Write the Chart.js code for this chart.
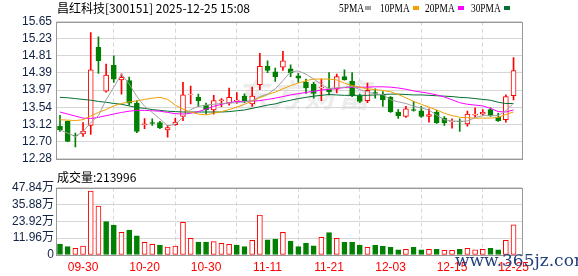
<!DOCTYPE html>
<html>
<head>
<meta charset="utf-8">
<script src="https://cdn.jsdelivr.net/npm/chart.js@4.4.0/dist/chart.umd.min.js"></script>
<style>
  body { margin: 0; background: #fff; width: 578px; height: 276px; overflow: hidden; position: relative; }
  canvas { position: absolute; left: 0; }
  #kc { top: 0; }
  #vc { top: 170px; }
  .txt { position: absolute; white-space: nowrap; font: 12px "Noto Sans CJK SC", "Liberation Sans", sans-serif; color: #000; line-height: 14px; }
  .lg { position: absolute; top: 2px; white-space: nowrap; font: 12px "Liberation Serif", serif; color: #000; line-height: 12px;
        transform: scaleX(0.78); transform-origin: left top; }
  .sq { position: absolute; top: 6px; width: 6px; height: 4px; }
  .wm { position: absolute; left: 236px; top: 70px; font: italic bold 32px "Noto Sans CJK SC", sans-serif; color: rgba(170,170,170,0.22); letter-spacing: 2px; }
  .site { position: absolute; left: 455px; top: 250px; font: 17px "DejaVu Serif", serif; color: #22407e; z-index: 5; }
</style>
</head>
<body>
<div class="wm">东方财富</div>
<canvas id="kc" width="578" height="170"></canvas>
<canvas id="vc" width="578" height="106"></canvas>
<div class="txt" style="left:57px;top:1px;">昌红科技[300151] 2025-12-25 15:08</div>
<div class="lg" style="left:339px;">5PMA</div><div class="sq" style="left:365px;background:#a0a0a0;"></div>
<div class="lg" style="left:380px;">10PMA</div><div class="sq" style="left:413px;background:#f0a000;"></div>
<div class="lg" style="left:425px;">20PMA</div><div class="sq" style="left:458px;background:#ff00ff;"></div>
<div class="lg" style="left:471px;">30PMA</div><div class="sq" style="left:504px;background:#006f30;"></div>
<div class="txt" style="left:57px;top:170px;">成交量:213996</div>
<div class="site">www.365jz.com</div>
<script>
// trading days shown (60 candles)
const dates = ['09-25','09-26','09-29','09-30','10-09','10-10','10-13','10-14','10-15','10-16',
  '10-17','10-20','10-21','10-22','10-23','10-24','10-27','10-28','10-29','10-30',
  '10-31','11-03','11-04','11-05','11-06','11-07','11-10','11-11','11-12','11-13',
  '11-14','11-17','11-18','11-19','11-20','11-21','11-24','11-25','11-26','11-27',
  '11-28','12-01','12-02','12-03','12-04','12-05','12-08','12-09','12-10','12-11',
  '12-12','12-15','12-16','12-17','12-18','12-19','12-22','12-23','12-24','12-25'];
const tickDates = ['09-30','10-20','10-30','11-11','11-21','12-03','12-15','12-25'];
const priceTicks = ['12.28','12.70','13.12','13.54','13.97','14.39','14.81','15.23','15.65'];
const volTicks = ['0','11.96万','23.92万','35.88万','47.84万'];

const openP = [13.08,13.20,12.86,12.89,13.10,15.02,13.94,14.58,14.22,14.20,
  13.65,13.12,13.17,13.17,12.99,13.12,13.32,13.86,13.79,13.60,
  13.48,13.71,13.65,13.70,13.82,13.63,14.10,14.55,14.42,14.53,
  14.49,14.32,14.16,14.11,14.02,14.00,13.99,14.30,14.19,13.82,
  13.71,13.91,13.85,13.79,13.43,13.32,13.49,13.46,13.32,13.43,
  13.28,13.19,13.21,13.14,13.35,13.38,13.49,13.30,13.24,13.83];
const highP = [13.35,13.21,12.91,13.17,15.38,15.28,14.61,14.81,14.37,14.29,
  13.71,13.27,13.26,13.20,13.10,13.28,14.16,14.07,13.87,13.65,
  13.84,13.76,14.02,13.91,13.88,14.04,14.87,14.69,14.51,14.92,
  14.59,14.38,14.24,14.16,14.24,14.40,14.36,14.47,14.40,13.87,
  14.14,14.00,13.93,13.81,13.49,13.57,13.69,13.57,13.51,13.47,
  13.32,13.26,13.26,13.45,13.53,13.49,13.53,13.40,13.85,14.77];
const lowP = [12.95,12.70,12.57,12.83,12.88,14.38,13.92,14.16,13.87,13.60,
  12.92,13.02,13.10,13.02,12.81,13.10,13.22,13.63,13.56,13.38,
  13.38,13.56,13.60,13.64,13.66,13.57,13.98,14.40,14.18,14.45,
  14.30,14.16,13.89,13.77,13.71,13.85,13.90,14.21,13.81,13.66,
  13.66,13.77,13.57,13.42,13.27,13.30,13.45,13.30,13.18,13.15,
  13.10,13.03,12.95,13.08,13.30,13.35,13.32,13.20,13.18,13.73];
const closeP = [12.99,12.71,12.84,12.96,14.47,14.69,14.34,14.24,14.28,13.65,
  12.95,13.14,13.15,13.04,13.05,13.18,13.85,13.87,13.71,13.48,
  13.71,13.73,13.79,13.72,13.71,13.82,14.55,14.45,14.30,14.69,
  14.40,14.26,14.02,13.89,14.04,13.93,14.30,14.22,13.83,13.69,
  13.96,13.89,13.73,13.44,13.34,13.51,13.47,13.32,13.37,13.17,
  13.16,13.20,13.19,13.38,13.38,13.43,13.34,13.22,13.81,14.45];

const ma5 = [12.99,12.91,12.83,12.95,13.17,13.34,13.73,14.04,14.36,14.12,
  13.81,13.57,13.42,13.26,13.09,13.13,13.30,13.49,13.57,13.60,
  13.62,13.64,13.65,13.66,13.68,13.71,13.81,13.87,14.00,14.20,
  14.42,14.44,14.36,14.24,14.11,14.00,14.03,14.04,14.06,13.98,
  13.93,13.87,13.86,13.73,13.68,13.64,13.57,13.53,13.48,13.35,
  13.24,13.21,13.20,13.21,13.29,13.34,13.34,13.34,13.46,13.65];
const ma10 = [13.24,13.23,13.22,13.24,13.33,13.42,13.49,13.58,13.64,13.68,
  13.70,13.74,13.77,13.79,13.74,13.60,13.50,13.43,13.38,13.36,
  13.40,13.44,13.49,13.55,13.62,13.70,13.78,13.86,13.92,14.00,
  14.08,14.14,14.20,14.24,14.24,14.24,14.22,14.14,14.08,14.04,
  14.00,13.98,13.96,13.93,13.86,13.78,13.69,13.62,13.55,13.48,
  13.40,13.34,13.30,13.29,13.28,13.28,13.28,13.30,13.37,13.43];
const ma20 = [13.43,13.38,13.33,13.28,13.27,13.30,13.34,13.38,13.42,13.45,
  13.47,13.47,13.46,13.45,13.42,13.39,13.38,13.40,13.44,13.50,
  13.57,13.62,13.66,13.69,13.69,13.70,13.71,13.74,13.77,13.81,
  13.85,13.88,13.91,13.94,13.97,13.99,14.01,14.03,14.04,14.04,
  14.04,14.05,14.05,14.04,14.02,13.99,13.95,13.92,13.89,13.85,
  13.80,13.73,13.66,13.62,13.60,13.58,13.52,13.44,13.43,13.48];
const ma30 = [13.79,13.78,13.76,13.74,13.72,13.69,13.67,13.64,13.62,13.58,
  13.54,13.52,13.49,13.47,13.45,13.44,13.43,13.43,13.43,13.43,
  13.43,13.43,13.44,13.46,13.48,13.52,13.56,13.60,13.63,13.68,
  13.72,13.76,13.79,13.82,13.84,13.86,13.85,13.84,13.84,13.84,
  13.84,13.85,13.86,13.87,13.87,13.86,13.85,13.85,13.84,13.83,
  13.82,13.81,13.79,13.78,13.76,13.74,13.72,13.67,13.64,13.64];

// volume in 万 shares, and whether the day closed up (red) or down (green)
const volume = [7.8,5.9,4.7,6.4,45.5,34.8,23.7,21.3,16.1,17.8,
  13.7,9.0,7.6,7.1,5.7,6.4,23.2,11.8,9.2,9.2,
  9.5,8.3,7.6,7.1,5.9,10.4,28.4,10.7,11.4,16.1,
  9.9,5.9,8.3,6.6,12.6,15.9,11.8,9.0,9.0,7.1,
  5.4,7.1,6.4,5.4,3.6,4.0,5.4,3.6,4.0,4.0,
  3.3,3.3,4.0,4.7,3.6,4.0,4.7,3.6,10.4,21.40];
const volUp = [0,0,1,1,1,1,0,0,1,0,
  0,1,1,0,1,1,1,1,0,0,
  1,1,1,0,0,1,1,0,0,1,
  0,0,0,0,1,0,1,0,0,0,
  1,0,0,0,0,1,0,0,1,0,
  1,1,0,1,1,1,0,0,1,1];

const RED = '#ff0000', GREEN = '#008000';
const GRID = '#d6d6d6', FRAME = '#999999', TICK = '#112244';
const idx = dates.map((_, i) => i);
const up = idx.map(i => closeP[i] >= openP[i]);

const frame = {
  id: 'frame',
  afterDraw(chart) {
    const { ctx, chartArea: a } = chart;
    ctx.save();
    ctx.strokeStyle = FRAME;
    ctx.lineWidth = 1;
    ctx.strokeRect(Math.round(a.left) + 0.5, Math.round(a.top) + 0.5,
      Math.round(a.right - a.left), Math.round(a.bottom - a.top));
    ctx.restore();
  }
};

const xBase = {
  type: 'linear', min: -0.52, max: 60.1, offset: false,
  afterBuildTicks: s => { s.ticks = tickDates.map(d => ({ value: dates.indexOf(d) })); },
  grid: { color: GRID, drawTicks: false },
  border: { display: false, dash: [4, 3] }
};

function maLine(data, color) {
  return {
    type: 'line', data: idx.map(i => ({ x: i, y: data[i] })),
    borderColor: color, borderWidth: 1, pointRadius: 0, tension: 0, order: -1
  };
}

new Chart(document.getElementById('kc'), {
  type: 'bar',
  data: {
    datasets: [
      maLine(ma5, '#a0a0a0'),
      maLine(ma10, '#f0a000'),
      maLine(ma20, '#ff00ff'),
      maLine(ma30, '#006f30'),
      {
        data: idx.map(i => ({ x: i, y: [openP[i], closeP[i]] })),
        backgroundColor: idx.map(i => up[i] ? '#ffffff' : GREEN),
        borderColor: idx.map(i => up[i] ? RED : GREEN),
        borderWidth: 1, borderSkipped: false, barThickness: 5, grouped: false, order: 1
      },
      {
        data: idx.map(i => ({ x: i, y: [lowP[i], highP[i]] })),
        backgroundColor: idx.map(i => up[i] ? RED : GREEN),
        barThickness: 1, grouped: false, order: 2
      }
    ]
  },
  options: {
    responsive: false, animation: false, events: [],
    layout: { padding: { left: 0, right: 56, top: 21.7, bottom: 5 } },
    plugins: { legend: { display: false }, tooltip: { enabled: false } },
    scales: {
      x: { ...xBase, ticks: { display: false }, afterFit: s => { s.height = 0; } },
      y: {
        min: 12.28, max: 15.65,
        afterBuildTicks: s => { s.ticks = priceTicks.map(t => ({ value: parseFloat(t) })); },
        afterFit: s => { s.width = 56; },
        ticks: { callback: (v, i) => priceTicks[i], color: TICK, padding: 4, autoSkip: false,
                 font: { family: 'Liberation Sans', size: 12 } },
        grid: { color: GRID, drawTicks: false },
        border: { display: false }
      }
    }
  },
  plugins: [frame]
});

new Chart(document.getElementById('vc'), {
  type: 'bar',
  data: {
    datasets: [{
      data: idx.map(i => ({ x: i, y: volume[i] })),
      backgroundColor: idx.map(i => volUp[i] ? '#ffffff' : GREEN),
      borderColor: idx.map(i => volUp[i] ? RED : GREEN),
      borderWidth: 1, borderSkipped: false, barThickness: 5, grouped: false
    }]
  },
  options: {
    responsive: false, animation: false, events: [],
    layout: { padding: { left: 0, right: 56, top: 17.7, bottom: 0 } },
    plugins: { legend: { display: false }, tooltip: { enabled: false } },
    scales: {
      x: {
        ...xBase,
        ticks: { callback: v => dates[v], color: RED, padding: 5, autoSkip: false, maxRotation: 0,
                 font: { family: 'Liberation Sans', size: 12 } },
        afterFit: s => { s.height = 21; }
      },
      y: {
        min: 0, max: 47.84,
        afterBuildTicks: s => { s.ticks = volTicks.map(t => ({ value: parseFloat(t) })); },
        afterFit: s => { s.width = 56; },
        ticks: { callback: (v, i) => volTicks[i], color: TICK, padding: 2, autoSkip: false,
                 font: { family: "'Liberation Sans', 'Noto Sans CJK SC'", size: 12 } },
        grid: { color: GRID, drawTicks: false },
        border: { display: false }
      }
    }
  },
  plugins: [frame]
});
</script>
</body>
</html>
